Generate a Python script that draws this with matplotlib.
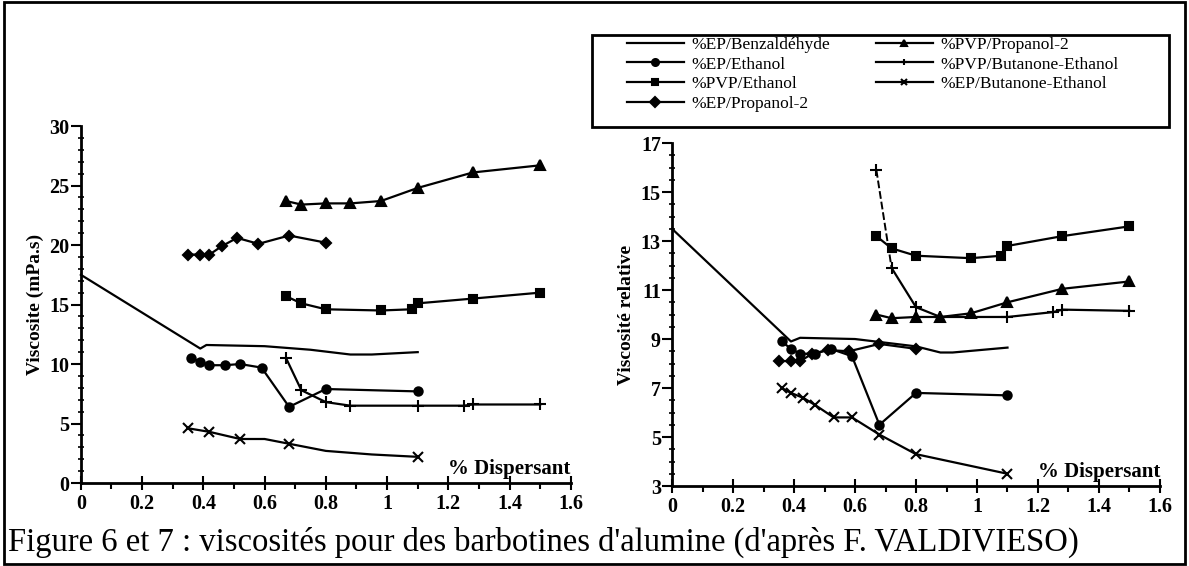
import matplotlib
matplotlib.use("Agg")
import matplotlib.pyplot as plt
from matplotlib.ticker import MultipleLocator
from matplotlib.patches import Rectangle

plt.rcParams['font.family'] = ['Liberation Serif', 'DejaVu Serif']

# ---- data ----
labels = ['%EP/Benzaldéhyde', '%EP/Ethanol', '%PVP/Ethanol', '%EP/Propanol-2',
          '%PVP/Propanol-2', '%PVP/Butanone-Ethanol', '%EP/Butanone-Ethanol']
markers = [None, 'o', 's', 'D', '^', '+', 'x']
msizes = [0, 6, 6, 5, 7, 9, 7]

# figure 6 : viscosity (mPa.s)
benz_x6 = [0, 0.39, 0.41, 0.6, 0.75, 0.88, 0.95, 1.1]
benz_y6 = [17.5, 11.3, 11.6, 11.5, 11.2, 10.8, 10.8, 11.0]
epeth_x = [0.36, 0.39, 0.42, 0.47, 0.52, 0.59, 0.68, 0.8, 1.1]
epeth_y6 = [10.5, 10.2, 9.9, 9.9, 10.0, 9.7, 6.4, 7.9, 7.7]
pvpeth_x = [0.67, 0.72, 0.8, 0.98, 1.08, 1.1, 1.28, 1.5]
pvpeth_y6 = [15.7, 15.1, 14.6, 14.5, 14.6, 15.1, 15.5, 16.0]
epprop_x = [0.35, 0.39, 0.42, 0.46, 0.51, 0.58, 0.68, 0.8]
epprop_y6 = [19.2, 19.2, 19.2, 19.9, 20.6, 20.1, 20.8, 20.2]
pvpprop_x = [0.67, 0.72, 0.8, 0.88, 0.98, 1.1, 1.28, 1.5]
pvpprop_y6 = [23.7, 23.4, 23.5, 23.5, 23.7, 24.8, 26.1, 26.7]
pvpbut_x = [0.67, 0.72, 0.8, 0.88, 1.1, 1.25, 1.28, 1.5]
pvpbut_y6 = [10.5, 7.8, 6.8, 6.5, 6.5, 6.5, 6.6, 6.6]
epbut_x6 = [0.35, 0.42, 0.52, 0.6, 0.68, 0.8, 0.95, 1.1]
epbut_y6 = [4.6, 4.3, 3.7, 3.7, 3.3, 2.7, 2.4, 2.2]

# figure 7 : relative viscosity
benz_x7 = [0, 0.39, 0.42, 0.6, 0.7, 0.8, 0.88, 0.92, 1.1]
benz_y7 = [13.5, 8.9, 9.05, 9.0, 8.85, 8.7, 8.45, 8.45, 8.65]
epeth_y7 = [8.9, 8.6, 8.4, 8.4, 8.6, 8.3, 5.5, 6.8, 6.7]
pvpeth_y7 = [13.2, 12.7, 12.4, 12.3, 12.4, 12.8, 13.2, 13.6]
epprop_y7 = [8.1, 8.1, 8.1, 8.4, 8.55, 8.5, 8.8, 8.6]
pvpprop_y7 = [10.0, 9.85, 9.9, 9.9, 10.05, 10.5, 11.05, 11.35]
pvpbut_y7 = [15.9, 11.9, 10.3, 9.9, 9.9, 10.1, 10.2, 10.15]
epbut_x7 = [0.36, 0.39, 0.43, 0.47, 0.53, 0.59, 0.68, 0.8, 1.1]
epbut_y7 = [7.0, 6.8, 6.6, 6.3, 5.8, 5.8, 5.1, 4.3, 3.5]

xticks = [0, 0.2, 0.4, 0.6, 0.8, 1, 1.2, 1.4, 1.6]
xticklabels = ['0', '0.2', '0.4', '0.6', '0.8', '1', '1.2', '1.4', '1.6']
yticks6 = [0, 5, 10, 15, 20, 25, 30]
yticks7 = [3, 5, 7, 9, 11, 13, 15, 17]

fig = plt.figure(figsize=(11.89, 5.66), dpi=100)
ax6 = fig.add_axes([0.068, 0.1466, 0.4121, 0.6307])
ax7 = fig.add_axes([0.5652, 0.1413, 0.4104, 0.606])


def style_axis(ax, ymin, ymax, yticks, yminor, ylabel):
    for s in ['top', 'right']:
        ax.spines[s].set_visible(False)
    for s in ['left', 'bottom']:
        ax.spines[s].set_linewidth(2)
    ax.set_xlim(0, 1.6)
    ax.set_ylim(ymin, ymax)
    ax.set_xticks(xticks)
    ax.set_xticklabels(xticklabels)
    ax.set_yticks(yticks)
    ax.xaxis.set_minor_locator(MultipleLocator(0.1))
    ax.yaxis.set_minor_locator(MultipleLocator(yminor))
    ax.tick_params(axis='x', which='major', direction='inout', length=10, width=1.5,
                   labelsize=14.5, pad=3)
    ax.tick_params(axis='x', which='minor', direction='out', length=4, width=1.5)
    ax.tick_params(axis='y', which='major', direction='out', length=7, width=1.5,
                   labelsize=14.5, pad=1)
    ax.tick_params(axis='y', which='minor', direction='inout', length=5, width=1.2)
    for t in ax.get_xticklabels() + ax.get_yticklabels():
        t.set_fontweight('bold')
    ax.set_ylabel(ylabel, fontsize=14, fontweight='bold')
    ax.text(1.0, 0.012, '% Dispersant', transform=ax.transAxes, ha='right', va='bottom',
            fontsize=15, fontweight='bold')
    ax.patch.set_visible(False)


def draw(ax, x, y, i, **kw):
    ax.plot(x, y, color='black', lw=1.6, marker=markers[i], ms=msizes[i],
            mew=1.5, label=labels[i], clip_on=False, **kw)


# figure 6
draw(ax6, benz_x6, benz_y6, 0)
draw(ax6, epeth_x, epeth_y6, 1)
draw(ax6, pvpeth_x, pvpeth_y6, 2)
draw(ax6, epprop_x, epprop_y6, 3)
draw(ax6, pvpprop_x, pvpprop_y6, 4)
draw(ax6, pvpbut_x, pvpbut_y6, 5)
draw(ax6, epbut_x6, epbut_y6, 6, markevery=[0, 1, 2, 4, 7])
style_axis(ax6, 0, 30, yticks6, 1, 'Viscosite (mPa.s)')

# figure 7
draw(ax7, benz_x7, benz_y7, 0)
draw(ax7, epeth_x, epeth_y7, 1)
draw(ax7, pvpeth_x, pvpeth_y7, 2)
draw(ax7, epprop_x, epprop_y7, 3)
draw(ax7, pvpprop_x, pvpprop_y7, 4)
ax7.plot(pvpbut_x[:2], pvpbut_y7[:2], color='black', lw=1.4, ls=(0, (4, 1.5)),
         marker='+', ms=9, mew=1.5, markevery=[0])
ax7.plot(pvpbut_x[1:], pvpbut_y7[1:], color='black', lw=1.6, marker='+', ms=9, mew=1.5)
draw(ax7, epbut_x7, epbut_y7, 6)
style_axis(ax7, 3, 17, yticks7, 0.5, 'Viscosité relative')

# legend (frame drawn separately so the entries sit inside with a margin)
handles, labs = ax6.get_legend_handles_labels()
leg = fig.legend(handles, labs, loc='upper left', ncol=2, frameon=False,
                 bbox_to_anchor=(0.527, 0.935), fontsize=12.5,
                 handlelength=3.3, handletextpad=0.45, labelspacing=0.2,
                 columnspacing=2.6, borderpad=0, borderaxespad=0)
for h in leg.legend_handles:
    h.set_markersize(5)
fig.add_artist(Rectangle((0.498, 0.776), 0.485, 0.162, transform=fig.transFigure,
                         fill=False, lw=2, edgecolor='black'))

# caption and outer frame
fig.text(0.007, 0.041, "Figure 6 et 7 : viscosités pour des barbotines d'alumine (d'après F. VALDIVIESO)",
         fontsize=23.5, ha='left', va='center')
fig.add_artist(Rectangle((0.003, 0.003), 0.994, 0.994, transform=fig.transFigure,
                         fill=False, lw=2, edgecolor='black'))

fig.savefig('out.png', dpi=100)
